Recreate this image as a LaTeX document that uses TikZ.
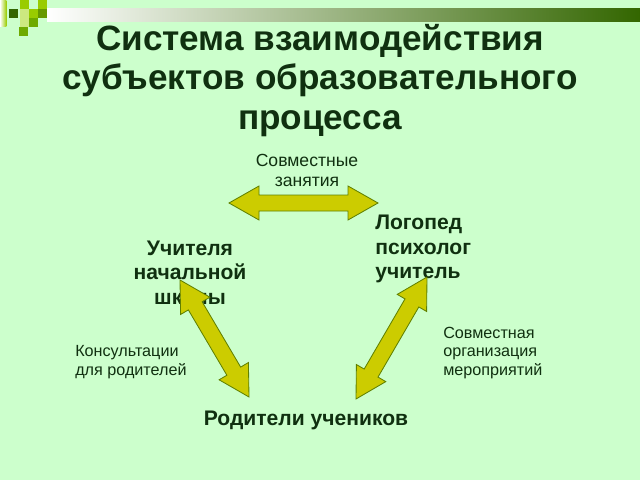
\documentclass[tikz,border=0pt]{standalone}
\usepackage{fontspec}
\setmainfont{Liberation Sans}
\usetikzlibrary{calc,positioning}

\definecolor{bggreen}{RGB}{204,255,204}
\definecolor{textgreen}{RGB}{16,48,16}
\definecolor{bargreen}{RGB}{51,102,0}
\definecolor{arrowfill}{RGB}{204,204,0}
\definecolor{arrowline}{RGB}{96,128,0}
\definecolor{sqdark}{RGB}{51,102,0}
\definecolor{sqyellow}{RGB}{153,204,0}
\definecolor{sqpale}{RGB}{204,232,128}
\definecolor{sqolive}{RGB}{102,153,0}
\definecolor{sqmid}{RGB}{110,170,0}

% block double arrow between two coordinates
\newcommand{\headlen}{0.75cm}
\newcommand{\headw}{0.425cm}
\newcommand{\shaftw}{0.2cm}
\newcommand{\dblarrow}[2]{%
  \filldraw[blockarrow] (#1)
    -- ($(#1)!\headlen!(#2)!\headw!90:(#2)$)
    -- ($(#1)!\headlen!(#2)!\shaftw!90:(#2)$)
    -- ($(#2)!\headlen!(#1)!\shaftw!-90:(#1)$)
    -- ($(#2)!\headlen!(#1)!\headw!-90:(#1)$)
    -- (#2)
    -- ($(#2)!\headlen!(#1)!\headw!90:(#1)$)
    -- ($(#2)!\headlen!(#1)!\shaftw!90:(#1)$)
    -- ($(#1)!\headlen!(#2)!\shaftw!-90:(#2)$)
    -- ($(#1)!\headlen!(#2)!\headw!-90:(#2)$)
    -- cycle;}

\begin{document}
\begin{tikzpicture}[
    role/.style={font=\bfseries\fontsize{15}{17.4}\selectfont, text=textgreen, inner sep=0pt},
    note/.style={font=\fontsize{11.5}{13.2}\selectfont, text=textgreen, inner sep=0pt},
    blockarrow/.style={fill=arrowfill, draw=arrowline, line width=0.6pt, line join=miter}]
  % background
  \fill[bggreen] (0,0) rectangle (16,12);
  \useasboundingbox (0,0) rectangle (16,12);

  % header bar and squares
  \shade[left color=white, right color=bargreen] (1.175,11.775) rectangle (16,11.45);
  \shade[left color=white, right color=sqyellow] (0,12) rectangle (0.16,11.325);
  \foreach \x/\y/\c in {0.225/11.775/sqdark, 0.5/12/sqyellow, 0.95/12/sqyellow,
      0.5/11.775/sqpale, 0.725/11.775/sqyellow, 0.95/11.775/sqolive,
      0.5/11.55/sqpale, 0.725/11.55/sqmid, 0.475/11.325/sqmid}
    \fill[\c] (\x,\y) rectangle ++(0.22,-0.22);

  % title
  \node[font=\bfseries\fontsize{25}{28.1}\selectfont, text=textgreen, align=center]
    (title) at (8,9.99) {Система взаимодействия\\субъектов образовательного\\процесса};

  % participants
  \node[role, align=left, anchor=west] (spec) at (9.375,5.775) {Логопед\\психолог\\учитель};
  \node[role, align=center] (teach) at (4.75,5.18) {Учителя\\начальной\\школы};
  \node[role] (parents) at (7.65,1.5) {Родители учеников};

  % kinds of work
  \node[note, font=\fontsize{12.5}{14.2}\selectfont, align=center] (joint) at (7.675,7.75) {Совместные\\занятия};
  \node[note, align=left, anchor=west] (consult) at (1.875,2.95) {Консультации\\для родителей};
  \node[note, align=left, anchor=west] (events) at (11.075,3.175) {Совместная\\организация\\мероприятий};

  % arrows
  \coordinate (topL) at (5.725,6.925);
  \coordinate (topR) at (9.45,6.925);
  \coordinate (leftU) at (4.5,5.0);
  \coordinate (leftD) at (6.225,2.075);
  \coordinate (rightU) at (10.675,5.075);
  \coordinate (rightD) at (8.9,2.025);
  \dblarrow{topL}{topR}
  \dblarrow{leftU}{leftD}
  \dblarrow{rightU}{rightD}
\end{tikzpicture}
\end{document}
